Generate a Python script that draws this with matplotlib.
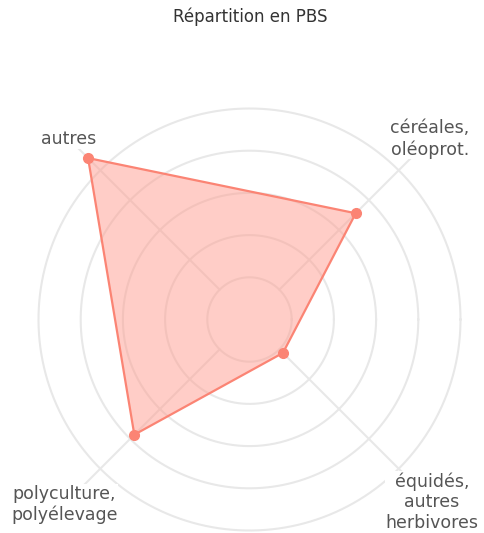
import numpy as np
import matplotlib
matplotlib.use("Agg")
import matplotlib.pyplot as plt

# Data
categories = ["céréales,\noléoprot.", "autres", "polyculture,\npolyélevage", "équidés,\nautres\nherbivores"]
values = [3.56, 5.41, 3.86, 1.12]
angles_deg = [45, 135, 225, 315]
grid_levels = [1, 2, 3, 4, 5]
title = "Répartition en PBS"

plt.rcParams['font.family'] = ['DejaVu Sans']

W, H = 484, 533
fig = plt.figure(figsize=(W / 100, H / 100), dpi=100)

cx, cy = 249.5, 319.5
unit = 42.2
rmax = 6.0
R = rmax * unit
ax = fig.add_axes([(cx - R) / W, (H - cy - R) / H, 2 * R / W, 2 * R / H], projection="polar")
ax.set_ylim(0, rmax)
ax.set_axis_off()

grid_color = "#e8e8e8"
th = np.linspace(0, 2 * np.pi, 400)
for g in grid_levels:
    ax.plot(th, np.full_like(th, g), color=grid_color, lw=1.5, zorder=1)
theta = np.deg2rad(angles_deg)
for t in theta:
    ax.plot([t, t], [grid_levels[0], rmax], color=grid_color, lw=1.5, zorder=1)

tc = np.append(theta, theta[0])
vc = np.append(values, values[0])
ax.fill(tc, vc, color="#ff9d90", alpha=0.5, lw=0, zorder=2)
ax.plot(tc, vc, color="#fb8474", lw=1.6, zorder=3)
ax.plot(theta, values, "o", color="#fb8474", ms=7, zorder=4)

label_r = [6.05, 6.05, 6.2, 6.12]
for t, lab, r in zip(theta, categories, label_r):
    ax.text(t, r, lab, ha="center", va="center", fontsize=12.5, color="#555555",
            linespacing=1.2, zorder=5, clip_on=False,
            bbox=dict(facecolor="white", edgecolor="none", pad=0.5))

fig.text(250 / W, 1 - 22.5 / H, title, ha="center", va="baseline", fontsize=12, color="#333333")

fig.savefig("out.png", dpi=100)
